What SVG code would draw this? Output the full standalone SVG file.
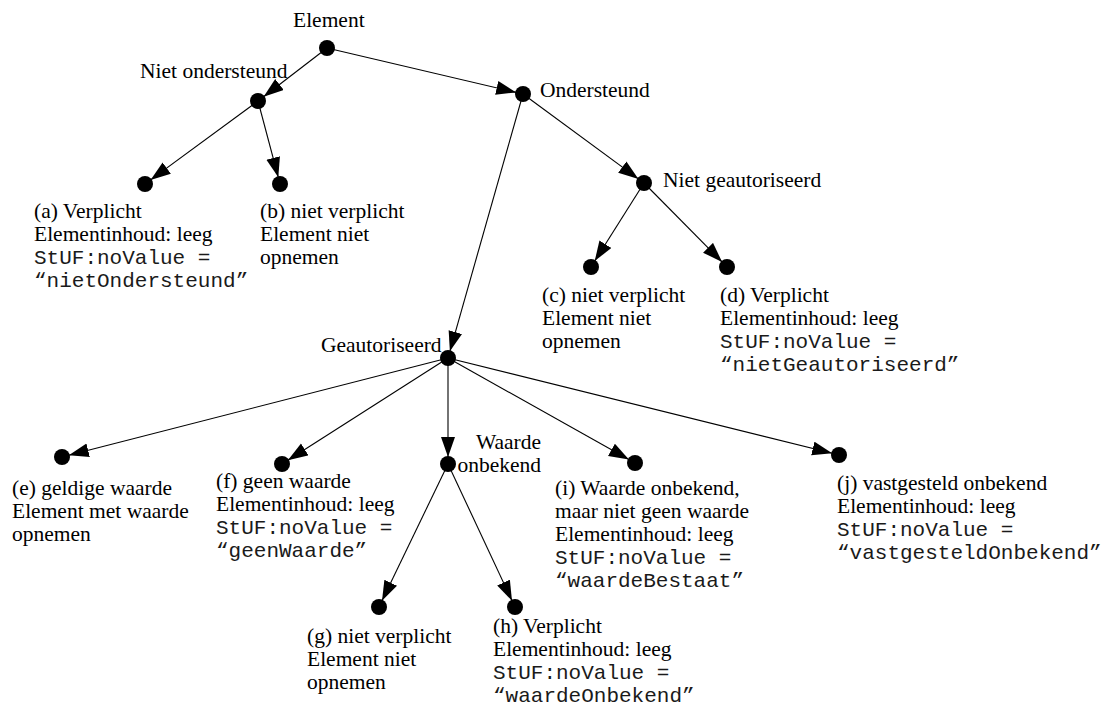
<svg xmlns="http://www.w3.org/2000/svg" width="1105" height="708" viewBox="0 0 1105 708">
<style>
.t{font-family:"Liberation Serif","Times New Roman",serif;font-size:21.5px;fill:#000}
.m{font-family:"Liberation Mono","Courier New",monospace;font-size:21px;fill:#1a1a1a}
.e{stroke:#000;stroke-width:1.1;fill:none;marker-end:url(#ah)}
.n{fill:#000}
</style>
<defs>
<marker id="ah" markerUnits="userSpaceOnUse" markerWidth="22" markerHeight="16" refX="20" refY="7" orient="auto">
<path d="M0,0 L20,7 L0,14 z" fill="#000"/>
</marker>
</defs>
<rect width="1105" height="708" fill="#fff"/>
<g id="connectors">
<line class="e" x1="327" y1="48" x2="263.6" y2="96.7"/>
<line class="e" x1="327" y1="48" x2="516.2" y2="92.4"/>
<line class="e" x1="258" y1="101" x2="150.6" y2="179.9"/>
<line class="e" x1="258" y1="101" x2="278.3" y2="177.3"/>
<line class="e" x1="523" y1="94" x2="638.4" y2="178.9"/>
<line class="e" x1="523" y1="94" x2="449.9" y2="351.3"/>
<line class="e" x1="644" y1="183" x2="594.7" y2="261.1"/>
<line class="e" x1="644" y1="183" x2="722.1" y2="262"/>
<line class="e" x1="448" y1="358" x2="68.8" y2="455.3"/>
<line class="e" x1="448" y1="358" x2="287.9" y2="460.2"/>
<line class="e" x1="448" y1="358" x2="448" y2="457"/>
<line class="e" x1="448" y1="358" x2="628.9" y2="459.6"/>
<line class="e" x1="448" y1="358" x2="832.2" y2="453.3"/>
<line class="e" x1="448" y1="464" x2="382" y2="600.7"/>
<line class="e" x1="448" y1="464" x2="512" y2="600.7"/>
</g>
<g id="element"><circle class="n" cx="327" cy="48" r="8"/><text class="t" x="293" y="27">Element</text></g>
<g id="niet-ondersteund"><circle class="n" cx="258" cy="101" r="8"/><text class="t" x="140" y="78">Niet ondersteund</text></g>
<g id="ondersteund"><circle class="n" cx="523" cy="94" r="8"/><text class="t" x="540" y="97">Ondersteund</text></g>
<g id="a"><circle class="n" cx="145" cy="184" r="8"/>
<text class="t" x="34" y="218">(a) Verplicht</text>
<text class="t" x="34" y="241">Elementinhoud: leeg</text>
<text class="m" x="34" y="264">StUF:noValue =</text>
<text class="m" x="34" y="287">“nietOndersteund”</text></g>
<g id="b"><circle class="n" cx="280" cy="184" r="8"/>
<text class="t" x="260" y="218">(b) niet verplicht</text>
<text class="t" x="260" y="241">Element niet</text>
<text class="t" x="260" y="264">opnemen</text></g>
<g id="niet-geautoriseerd"><circle class="n" cx="644" cy="183" r="8"/><text class="t" x="663" y="187">Niet geautoriseerd</text></g>
<g id="c"><circle class="n" cx="591" cy="267" r="8"/>
<text class="t" x="542" y="302">(c) niet verplicht</text>
<text class="t" x="542" y="325">Element niet</text>
<text class="t" x="542" y="348">opnemen</text></g>
<g id="d"><circle class="n" cx="727" cy="267" r="8"/>
<text class="t" x="720" y="302">(d) Verplicht</text>
<text class="t" x="720" y="325">Elementinhoud: leeg</text>
<text class="m" x="720" y="348">StUF:noValue =</text>
<text class="m" x="720" y="371">“nietGeautoriseerd”</text></g>
<g id="geautoriseerd"><circle class="n" cx="448" cy="358" r="8"/><text class="t" x="321" y="352">Geautoriseerd</text></g>
<g id="e"><circle class="n" cx="62" cy="457" r="8"/>
<text class="t" x="12" y="495">(e) geldige waarde</text>
<text class="t" x="12" y="518">Element met waarde</text>
<text class="t" x="12" y="541">opnemen</text></g>
<g id="f"><circle class="n" cx="282" cy="464" r="8"/>
<text class="t" x="216" y="488">(f) geen waarde</text>
<text class="t" x="216" y="511">Elementinhoud: leeg</text>
<text class="m" x="216" y="534">StUF:noValue =</text>
<text class="m" x="216" y="557">“geenWaarde”</text></g>
<g id="waarde-onbekend"><circle class="n" cx="448" cy="464" r="8"/>
<text class="t" x="541" y="449" text-anchor="end">Waarde</text>
<text class="t" x="541" y="472" text-anchor="end">onbekend</text></g>
<g id="i"><circle class="n" cx="635" cy="463" r="8"/>
<text class="t" x="555" y="495">(i) Waarde onbekend,</text>
<text class="t" x="555" y="518">maar niet geen waarde</text>
<text class="t" x="555" y="541">Elementinhoud: leeg</text>
<text class="m" x="555" y="564">StUF:noValue =</text>
<text class="m" x="555" y="587">“waardeBestaat”</text></g>
<g id="j"><circle class="n" cx="839" cy="455" r="8"/>
<text class="t" x="837" y="490">(j) vastgesteld onbekend</text>
<text class="t" x="837" y="513">Elementinhoud: leeg</text>
<text class="m" x="837" y="536">StUF:noValue =</text>
<text class="m" x="837" y="559">“vastgesteldOnbekend”</text></g>
<g id="g"><circle class="n" cx="379" cy="607" r="8"/>
<text class="t" x="307" y="643">(g) niet verplicht</text>
<text class="t" x="307" y="666">Element niet</text>
<text class="t" x="307" y="689">opnemen</text></g>
<g id="h"><circle class="n" cx="515" cy="607" r="8"/>
<text class="t" x="493" y="633">(h) Verplicht</text>
<text class="t" x="493" y="656">Elementinhoud: leeg</text>
<text class="m" x="493" y="679">StUF:noValue =</text>
<text class="m" x="493" y="702">“waardeOnbekend”</text></g>
</svg>
